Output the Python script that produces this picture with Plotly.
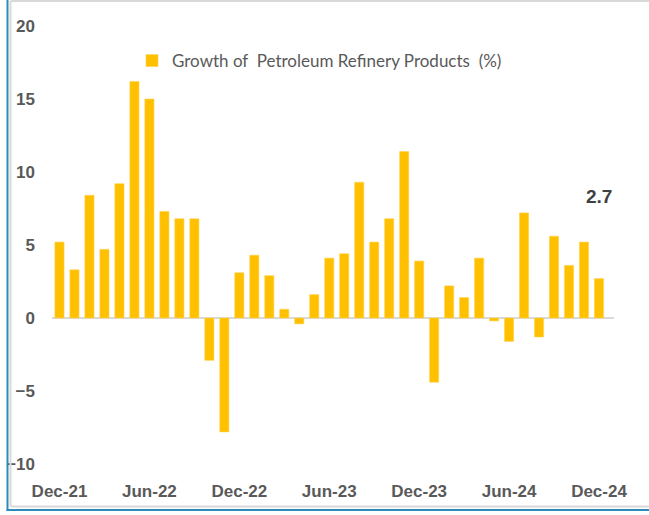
import plotly.graph_objects as go

months = ["Dec-21", "Jan-22", "Feb-22", "Mar-22", "Apr-22", "May-22", "Jun-22", "Jul-22",
          "Aug-22", "Sep-22", "Oct-22", "Nov-22", "Dec-22", "Jan-23", "Feb-23", "Mar-23",
          "Apr-23", "May-23", "Jun-23", "Jul-23", "Aug-23", "Sep-23", "Oct-23", "Nov-23",
          "Dec-23", "Jan-24", "Feb-24", "Mar-24", "Apr-24", "May-24", "Jun-24", "Jul-24",
          "Aug-24", "Sep-24", "Oct-24", "Nov-24", "Dec-24"]
growth = [5.2, 3.3, 8.4, 4.7, 9.2, 16.2, 15.0, 7.3, 6.8, 6.8, -2.9, -7.8, 3.1, 4.3, 2.9, 0.6,
          -0.4, 1.6, 4.1, 4.4, 9.3, 5.2, 6.8, 11.4, 3.9, -4.4, 2.2, 1.4, 4.1, -0.2, -1.6, 7.2,
          -1.3, 5.6, 3.6, 5.2, 2.7]
tick_labels = ["Dec-21", "Jun-22", "Dec-22", "Jun-23", "Dec-23", "Jun-24", "Dec-24"]
series_name = "Growth of  Petroleum Refinery Products  (%)"

W, H = 649, 515
L, R, T, B = 52, 35, 26, 51
pw, ph = W - L - R, H - T - B

def px(x):
    return (x - L) / pw

def py(y):
    return (H - B - y) / ph

fig = go.Figure()
fig.add_trace(go.Bar(
    x=months, y=growth, name=series_name,
    marker=dict(color="#FFC000", line=dict(color="#FFD24D", width=0.6)),
    showlegend=True,
))

fig.add_annotation(
    x=months[-1], y=growth[-1], text=f"{growth[-1]:.1f}", showarrow=False,
    yshift=82, font=dict(family="Liberation Sans", size=19, color="#404040", weight="bold"),
)

tick_font = dict(family="Liberation Sans", size=17, color="#595959", weight="bold")
fig.update_layout(
    width=W, height=H,
    margin=dict(l=L, r=R, t=T, b=B, autoexpand=False),
    paper_bgcolor="white", plot_bgcolor="white",
    bargap=0.39,
    showlegend=True,
    legend=dict(x=px(132), y=py(61), xanchor="left", yanchor="middle",
                font=dict(family="Lato", size=17, color="#595959"),
                bgcolor="rgba(0,0,0,0)", itemwidth=30),
    xaxis=dict(type="category", tickmode="array", tickvals=tick_labels, ticktext=tick_labels,
               showgrid=False, showline=False, ticks="", tickfont=tick_font,
               ticklabelstandoff=15, tickangle=0, automargin=False),
    yaxis=dict(range=[-10, 20], dtick=5, showgrid=False, showline=False, ticks="",
               zeroline=True, zerolinecolor="#D9D9D9", zerolinewidth=1.5,
               tickfont=dict(family="Liberation Sans", size=17, color="#595959", weight="bold"),
               ticklabelstandoff=16, automargin=False),
    shapes=[
        dict(type="line", xref="paper", yref="paper", x0=px(10.5), x1=px(649), y0=py(1), y1=py(1),
             line=dict(color="#D9D9D9", width=2)),
        dict(type="line", xref="paper", yref="paper", x0=px(10.5), x1=px(10.5), y0=py(1), y1=py(506.5),
             line=dict(color="#D9D9D9", width=2)),
        dict(type="line", xref="paper", yref="paper", x0=px(10.5), x1=px(649), y0=py(506.5), y1=py(506.5),
             line=dict(color="#D9D9D9", width=2)),
        dict(type="line", xref="paper", yref="paper", x0=px(7.5), x1=px(7.5), y0=py(0), y1=py(511),
             line=dict(color="#2A8DB8", width=2)),
        dict(type="line", xref="paper", yref="paper", x0=px(6.5), x1=px(649), y0=py(510), y1=py(510),
             line=dict(color="#2A8DB8", width=2)),
    ],
)

fig.write_html("out.html", config={"displayModeBar": False},
               post_script="document.body.style.margin='0px';")
